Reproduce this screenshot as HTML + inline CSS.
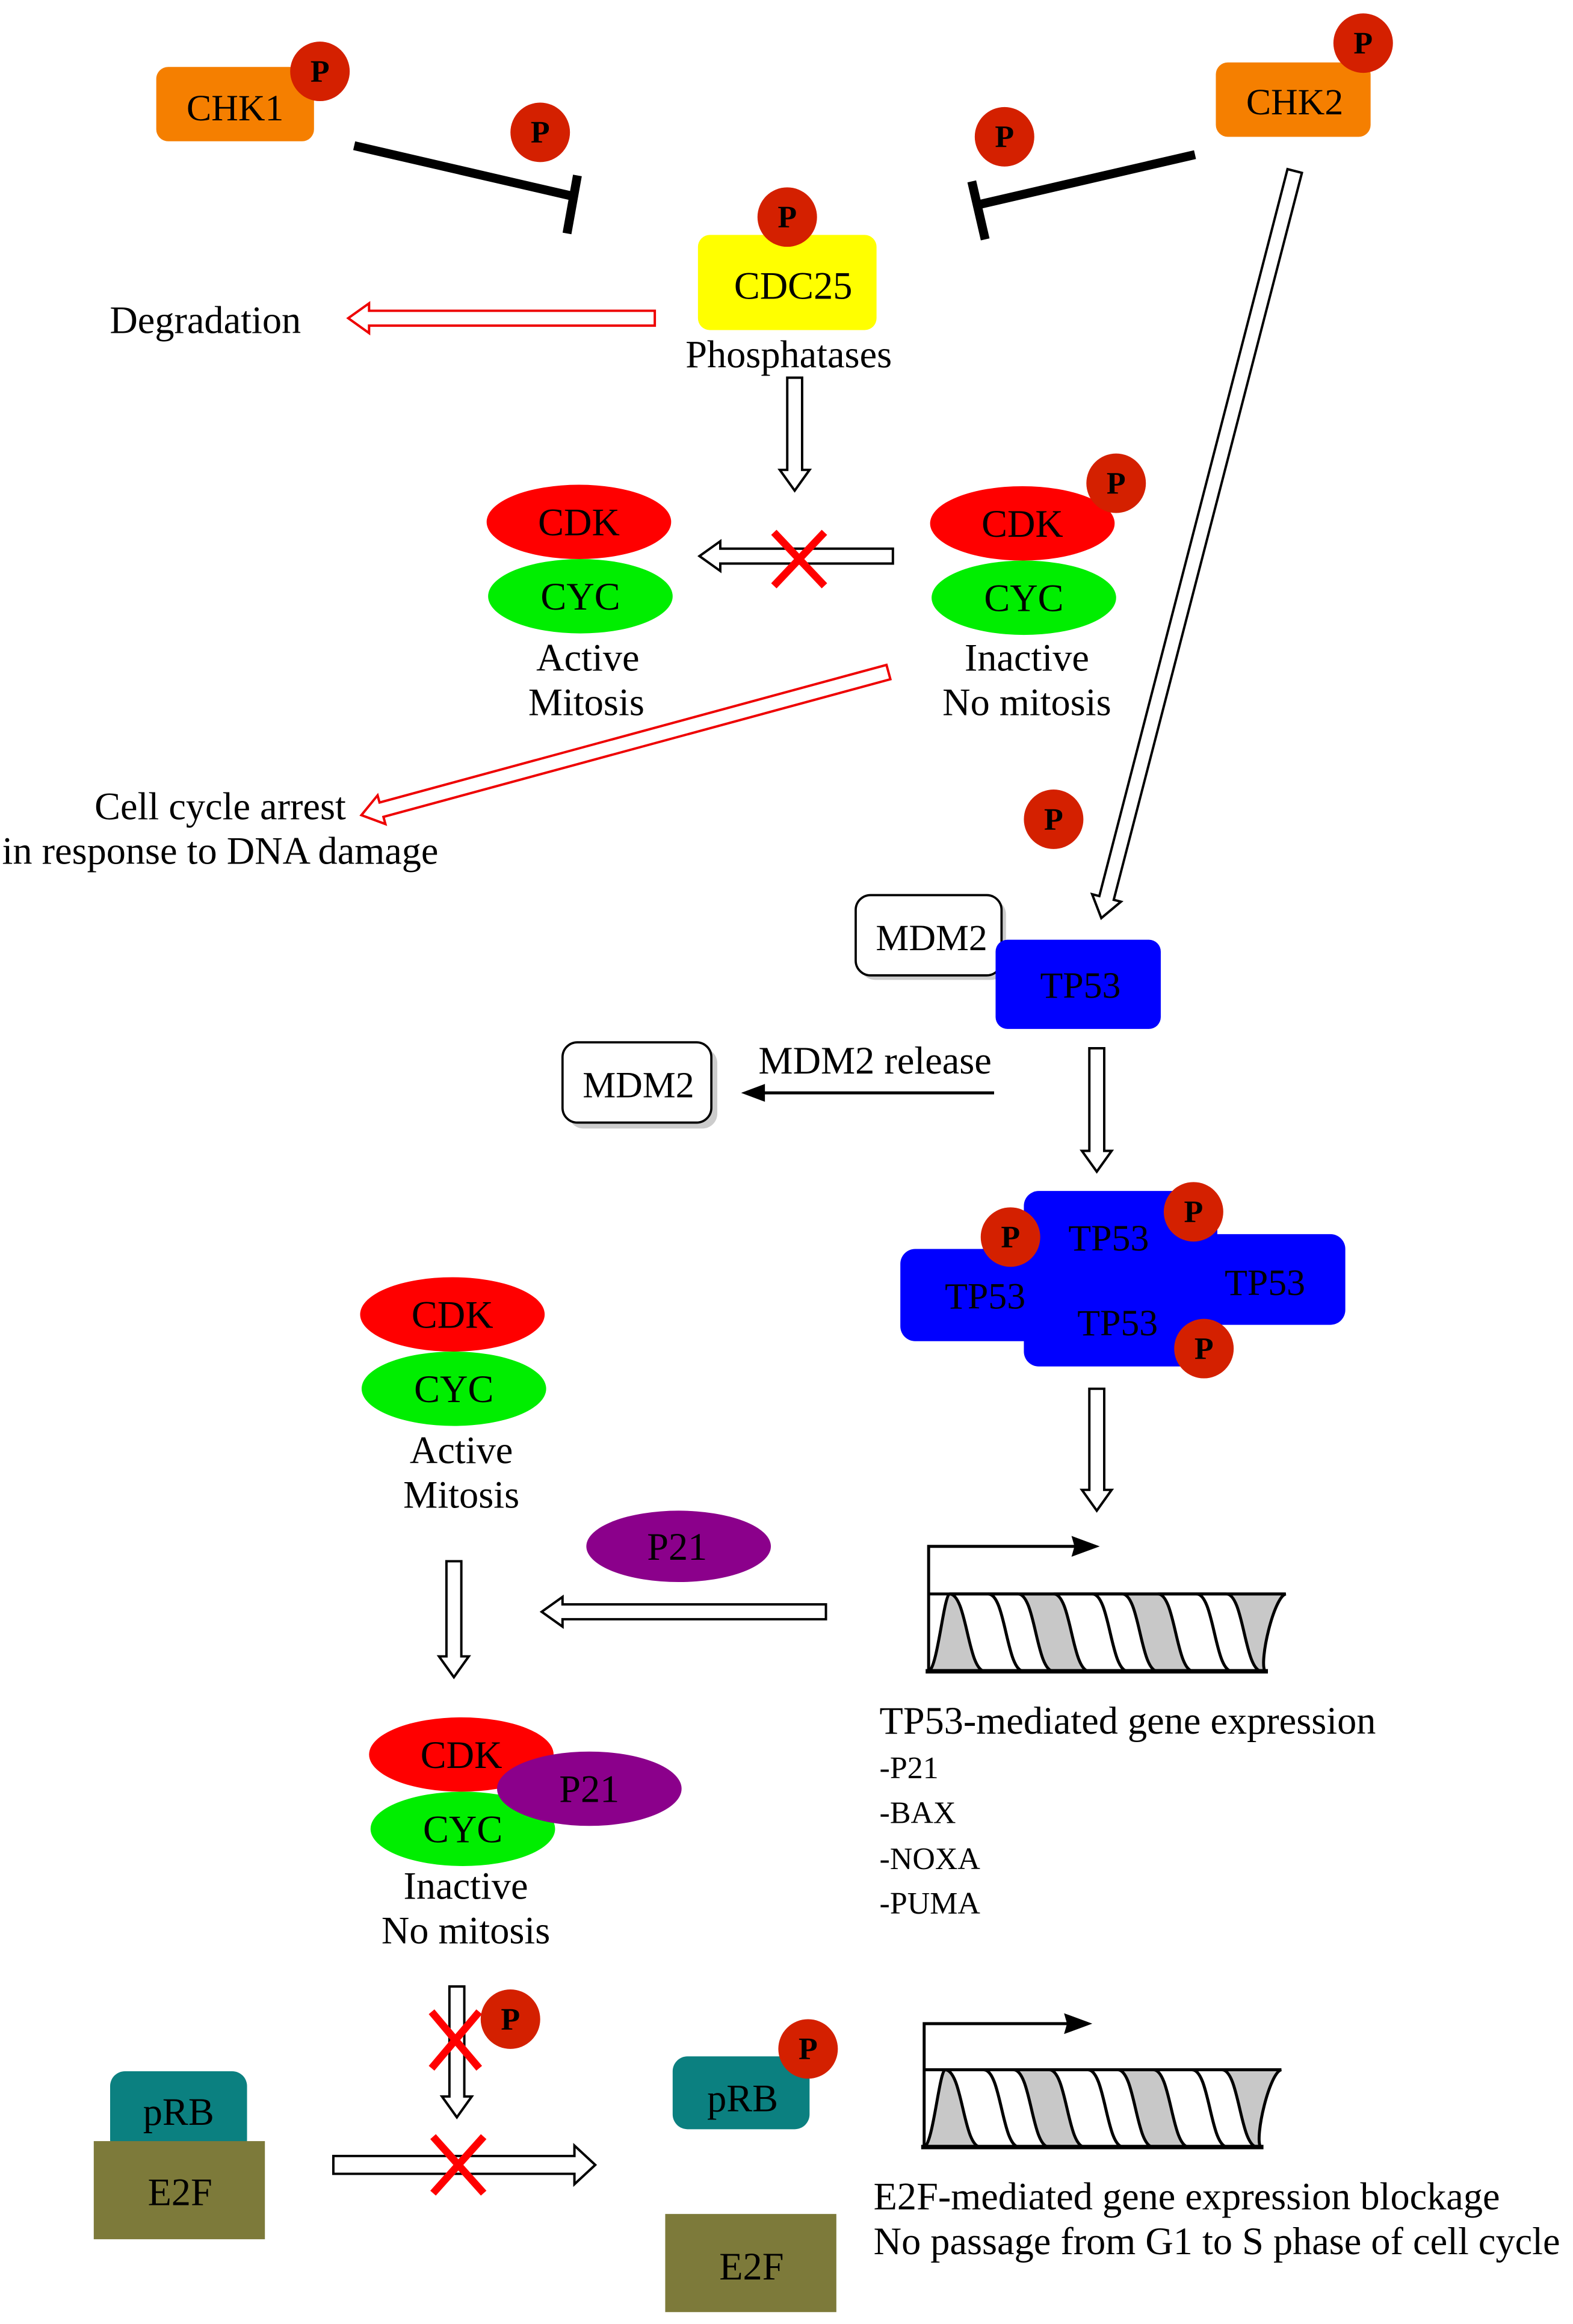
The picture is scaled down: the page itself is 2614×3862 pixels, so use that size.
<!DOCTYPE html>
<html><head><meta charset="utf-8"><style>
html,body{margin:0;padding:0;background:#fff;}
svg{display:block;}
text{font-family:"Liberation Serif",serif;fill:#000;}
</style></head><body>
<svg width="2614" height="3862" viewBox="0 0 1057 1563" preserveAspectRatio="none" xmlns="http://www.w3.org/2000/svg">
<defs>
<g id="P"><circle r="20" fill="#d42000"/><text y="7" text-anchor="middle" font-size="21" font-weight="bold">P</text></g>
<g id="helix">
<path d="M0,52 C6,50 10,2 14,0 L240,0 C232,2 222,45 226,52 Z" fill="#c8c8c8" stroke="#000" stroke-width="2"/>
<g fill="#fff" stroke="#000" stroke-width="2">
<path d="M14,0 L40,0 C52,0 52,52 64,52 L38,52 C26,52 26,0 14,0Z"/>
<path d="M40,0 L60,0 C72,0 72,52 84,52 L64,52 C52,52 52,0 40,0Z"/>
<path d="M84,0 L110,0 C122,0 122,52 134,52 L108,52 C96,52 96,0 84,0Z"/>
<path d="M110,0 L130,0 C142,0 142,52 154,52 L134,52 C122,52 122,0 110,0Z"/>
<path d="M154,0 L180,0 C192,0 192,52 204,52 L178,52 C166,52 166,0 154,0Z"/>
<path d="M180,0 L200,0 C212,0 212,52 224,52 L204,52 C192,52 192,0 180,0Z"/>
</g>
<line x1="0" y1="0" x2="240" y2="0" stroke="#000" stroke-width="2"/>
<line x1="-2" y1="52" x2="228" y2="52" stroke="#000" stroke-width="3"/>
</g>
</defs>

<!-- CHK1 -->
<rect x="105" y="45" width="106" height="50" rx="8" fill="#f57f00"/>
<text x="158" y="81" text-anchor="middle" font-size="25">CHK1</text>
<use href="#P" x="215" y="48"/>
<!-- CHK2 -->
<rect x="817" y="42" width="104" height="50" rx="8" fill="#f57f00"/>
<text x="870" y="77" text-anchor="middle" font-size="25">CHK2</text>
<use href="#P" x="916" y="29"/>

<line x1="238" y1="98" x2="385" y2="132" stroke="#000" stroke-width="6"/>
<line x1="388" y1="118" x2="381" y2="157" stroke="#000" stroke-width="6"/>
<use href="#P" x="363" y="89"/>
<line x1="803" y1="104" x2="656" y2="138" stroke="#000" stroke-width="6"/>
<line x1="653" y1="122" x2="662" y2="161" stroke="#000" stroke-width="6"/>
<use href="#P" x="675" y="92"/>

<rect x="469" y="158" width="120" height="64" rx="8" fill="#ffff00"/>
<use href="#P" x="529" y="146"/>
<text x="533" y="201" text-anchor="middle" font-size="26">CDC25</text>
<text x="530" y="247" text-anchor="middle" font-size="26">Phosphatases</text>

<text x="138" y="224" text-anchor="middle" font-size="26">Degradation</text>
<polygon transform="translate(440,214) rotate(180)" points="0,-5 192,-5 192,-10 206,0 192,10 192,5 0,5" fill="#fff" stroke="#e00" stroke-width="1.6"/>

<polygon transform="translate(534,254) rotate(90)" points="0,-5 62,-5 62,-10 76,0 62,10 62,5 0,5" fill="#fff" stroke="#000" stroke-width="1.6"/>

<ellipse cx="390" cy="401" rx="62" ry="25" fill="#00ee00"/>
<ellipse cx="389" cy="351" rx="62" ry="25" fill="#ff0000"/>
<text x="389" y="360" text-anchor="middle" font-size="26">CDK</text>
<text x="390" y="410" text-anchor="middle" font-size="26">CYC</text>
<text x="395" y="451" text-anchor="middle" font-size="26">Active</text>
<text x="394" y="481" text-anchor="middle" font-size="26">Mitosis</text>

<ellipse cx="688" cy="402" rx="62" ry="25" fill="#00ee00"/>
<ellipse cx="687" cy="352" rx="62" ry="25" fill="#ff0000"/>
<use href="#P" x="750" y="325"/>
<text x="687" y="361" text-anchor="middle" font-size="26">CDK</text>
<text x="688" y="411" text-anchor="middle" font-size="26">CYC</text>
<text x="690" y="451" text-anchor="middle" font-size="26">Inactive</text>
<text x="690" y="481" text-anchor="middle" font-size="26">No mitosis</text>

<polygon transform="translate(600,374) rotate(180)" points="0,-5 116,-5 116,-10 130,0 116,10 116,5 0,5" fill="#fff" stroke="#000" stroke-width="1.6"/>
<g stroke="#f00" stroke-width="5"><line x1="520" y1="358" x2="554" y2="394"/><line x1="554" y1="358" x2="520" y2="394"/></g>

<polygon transform="translate(597,452) rotate(164.8)" points="0,-5 353,-5 353,-10 367,0 353,10 353,5 0,5" fill="#fff" stroke="#e00" stroke-width="1.6"/>
<text x="148" y="551" text-anchor="middle" font-size="26">Cell cycle arrest</text>
<text x="148" y="581" text-anchor="middle" font-size="26">in response to DNA damage</text>

<polygon transform="translate(870,115) rotate(104.5)" points="0,-5 505,-5 505,-10 519,0 505,10 505,5 0,5" fill="#fff" stroke="#000" stroke-width="1.6"/>

<use href="#P" x="708" y="551"/>
<rect x="578" y="605" width="98" height="54" rx="10" fill="#ccc"/>
<rect x="575" y="602" width="98" height="54" rx="10" fill="#fff" stroke="#000" stroke-width="1.5"/>
<text x="626" y="639" text-anchor="middle" font-size="25">MDM2</text>
<rect x="669" y="632" width="111" height="60" rx="8" fill="#0000ff"/>
<text x="726" y="671" text-anchor="middle" font-size="25">TP53</text>

<text x="588" y="722" text-anchor="middle" font-size="26">MDM2 release</text>
<line x1="668" y1="735" x2="510" y2="735" stroke="#000" stroke-width="2"/>
<polygon points="498,735 514,729 514,741" fill="#000"/>
<rect x="382" y="705" width="100" height="54" rx="10" fill="#ccc"/>
<rect x="378" y="701" width="100" height="54" rx="10" fill="#fff" stroke="#000" stroke-width="1.5"/>
<text x="429" y="738" text-anchor="middle" font-size="25">MDM2</text>

<polygon transform="translate(737,705) rotate(90)" points="0,-5 69,-5 69,-10 83,0 69,10 69,5 0,5" fill="#fff" stroke="#000" stroke-width="1.6"/>

<rect x="688" y="801" width="130" height="118" rx="10" fill="#0000ff"/>
<rect x="605" y="840" width="115" height="62" rx="10" fill="#0000ff"/>
<rect x="780" y="830" width="124" height="61" rx="10" fill="#0000ff"/>
<text x="745" y="841" text-anchor="middle" font-size="25">TP53</text>
<text x="662" y="880" text-anchor="middle" font-size="25">TP53</text>
<text x="850" y="871" text-anchor="middle" font-size="25">TP53</text>
<text x="751" y="898" text-anchor="middle" font-size="25">TP53</text>
<use href="#P" x="679" y="832"/>
<use href="#P" x="802" y="815"/>
<use href="#P" x="809" y="907"/>

<polygon transform="translate(737,934) rotate(90)" points="0,-5 68,-5 68,-10 82,0 68,10 68,5 0,5" fill="#fff" stroke="#000" stroke-width="1.6"/>

<polyline points="624,1123 624,1040 725,1040" fill="none" stroke="#000" stroke-width="2"/>
<polygon points="739,1040 720,1033 722,1040 720,1047" fill="#000"/>
<use href="#helix" x="624" y="1072"/>
<text x="591" y="1166" font-size="26">TP53-mediated gene expression</text>
<text x="591" y="1196" font-size="21">-P21</text>
<text x="591" y="1226" font-size="21">-BAX</text>
<text x="591" y="1257" font-size="21">-NOXA</text>
<text x="591" y="1287" font-size="21">-PUMA</text>

<ellipse cx="305" cy="934" rx="62" ry="25" fill="#00ee00"/>
<ellipse cx="304" cy="884" rx="62" ry="25" fill="#ff0000"/>
<text x="304" y="893" text-anchor="middle" font-size="26">CDK</text>
<text x="305" y="943" text-anchor="middle" font-size="26">CYC</text>
<text x="310" y="984" text-anchor="middle" font-size="26">Active</text>
<text x="310" y="1014" text-anchor="middle" font-size="26">Mitosis</text>

<ellipse cx="456" cy="1040" rx="62" ry="24" fill="#8b008b"/>
<text x="455" y="1049" text-anchor="middle" font-size="26">P21</text>
<polygon transform="translate(555,1084) rotate(180)" points="0,-5 177,-5 177,-10 191,0 177,10 177,5 0,5" fill="#fff" stroke="#000" stroke-width="1.6"/>
<polygon transform="translate(305,1050) rotate(90)" points="0,-5 64,-5 64,-10 78,0 64,10 64,5 0,5" fill="#fff" stroke="#000" stroke-width="1.6"/>

<ellipse cx="311" cy="1230" rx="62" ry="25" fill="#00ee00"/>
<ellipse cx="310" cy="1180" rx="62" ry="25" fill="#ff0000"/>
<ellipse cx="396" cy="1203" rx="62" ry="25" fill="#8b008b"/>
<text x="310" y="1189" text-anchor="middle" font-size="26">CDK</text>
<text x="311" y="1239" text-anchor="middle" font-size="26">CYC</text>
<text x="396" y="1212" text-anchor="middle" font-size="26">P21</text>
<text x="313" y="1277" text-anchor="middle" font-size="26">Inactive</text>
<text x="313" y="1307" text-anchor="middle" font-size="26">No mitosis</text>

<polygon transform="translate(307,1336) rotate(90)" points="0,-5 74,-5 74,-10 88,0 74,10 74,5 0,5" fill="#fff" stroke="#000" stroke-width="1.6"/>
<g stroke="#f00" stroke-width="5"><line x1="290" y1="1353" x2="322" y2="1391"/><line x1="322" y1="1353" x2="290" y2="1391"/></g>
<use href="#P" x="343" y="1358"/>

<rect x="74" y="1393" width="92" height="56" rx="10" fill="#0b8080"/>
<text x="120" y="1429" text-anchor="middle" font-size="26">pRB</text>
<rect x="63" y="1440" width="115" height="66" fill="#7d7a3a"/>
<text x="121" y="1483" text-anchor="middle" font-size="26">E2F</text>

<polygon transform="translate(224,1456)" points="0,-6 162,-6 162,-13 176,0 162,13 162,6 0,6" fill="#fff" stroke="#000" stroke-width="1.6"/>
<g stroke="#f00" stroke-width="5"><line x1="291" y1="1437" x2="325" y2="1475"/><line x1="325" y1="1437" x2="291" y2="1475"/></g>

<rect x="452" y="1383" width="92" height="49" rx="10" fill="#0b8080"/>
<text x="499" y="1420" text-anchor="middle" font-size="26">pRB</text>
<use href="#P" x="543" y="1378"/>
<rect x="447" y="1489" width="115" height="66" fill="#7d7a3a"/>
<text x="505" y="1533" text-anchor="middle" font-size="26">E2F</text>

<polyline points="621,1443 621,1361 720,1361" fill="none" stroke="#000" stroke-width="2"/>
<polygon points="734,1361 715,1354 717,1361 715,1368" fill="#000"/>
<use href="#helix" x="621" y="1392"/>
<text x="587" y="1486" font-size="26">E2F-mediated gene expression blockage</text>
<text x="587" y="1516" font-size="26">No passage from G1 to S phase of cell cycle</text>
</svg>
</body></html>
